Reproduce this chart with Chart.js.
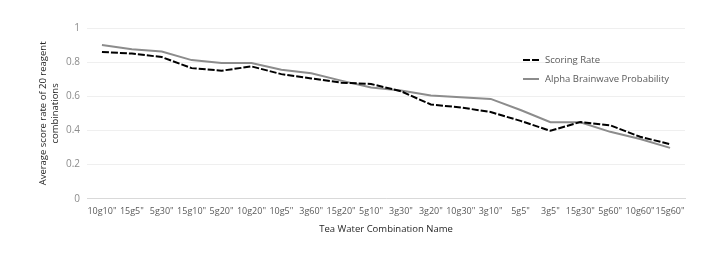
<!DOCTYPE html>
<html>
<head>
<meta charset="utf-8">
<script src="https://cdn.jsdelivr.net/npm/chart.js@4/dist/chart.umd.min.js"></script>
<style>
  html, body { margin: 0; padding: 0; background: #fff; }
  #wrap { width: 710px; height: 270px; }
</style>
</head>
<body>
<div id="wrap"><canvas id="teaChart" width="710" height="270"></canvas></div>
<script>
const combos = ['10g10"', '15g5"', '5g30"', '15g10"', '5g20"', '10g20"', '10g5"', '3g60"', '15g20"', '5g10"',
  '3g30"', '3g20"', '10g30"', '3g10"', '5g5"', '3g5"', '15g30"', '5g60"', '10g60"', '15g60"'];
const scoringRate = [0.86, 0.85, 0.83, 0.765, 0.75, 0.775, 0.73, 0.705, 0.68, 0.672,
  0.63, 0.552, 0.535, 0.508, 0.456, 0.398, 0.45, 0.43, 0.363, 0.32];
const alphaProb = [0.90, 0.876, 0.862, 0.812, 0.795, 0.795, 0.755, 0.735, 0.692, 0.652,
  0.634, 0.605, 0.595, 0.585, 0.52, 0.448, 0.448, 0.392, 0.35, 0.298];
const yTicks = [0, 0.2, 0.4, 0.6, 0.8, 1];

const fontFamily = '"Open Sans", "Liberation Sans", sans-serif';

// legend sits inside the plot, drawn by hand
const innerLegend = {
  id: 'innerLegend',
  afterDraw(chart) {
    const ctx = chart.ctx;
    const x0 = 523, y0 = 60, gap = 19;
    ctx.save();
    ctx.font = '9.5px ' + fontFamily;
    ctx.textBaseline = 'middle';
    chart.data.datasets.forEach((ds, i) => {
      const y = y0 + i * gap;
      ctx.strokeStyle = ds.borderColor;
      ctx.lineWidth = 2;
      ctx.setLineDash(ds.borderDash || []);
      ctx.beginPath();
      ctx.moveTo(x0, y);
      ctx.lineTo(x0 + 16, y);
      ctx.stroke();
      ctx.setLineDash([]);
      ctx.fillStyle = '#595959';
      ctx.fillText(ds.label, x0 + 22, y);
    });
    ctx.restore();
  }
};

new Chart(document.getElementById('teaChart'), {
  type: 'line',
  data: {
    labels: combos,
    datasets: [
      {
        label: 'Scoring Rate',
        data: scoringRate,
        borderColor: '#000000',
        borderWidth: 2,
        borderDash: [7, 2],
        pointRadius: 0,
        tension: 0
      },
      {
        label: 'Alpha Brainwave Probability',
        data: alphaProb,
        borderColor: '#8c8c8c',
        borderWidth: 2,
        pointRadius: 0,
        tension: 0
      }
    ]
  },
  options: {
    responsive: false,
    animation: false,
    layout: { padding: { left: 37, right: 25, top: 28, bottom: 35 } },
    plugins: {
      legend: { display: false },
      tooltip: { enabled: false }
    },
    scales: {
      x: {
        offset: true,
        grid: { display: false, drawTicks: false },
        border: { color: '#d9d9d9', width: 1 },
        ticks: {
          color: '#595959',
          font: { size: 9, family: fontFamily },
          padding: 7,
          maxRotation: 0,
          autoSkip: false
        },
        title: {
          display: true,
          text: 'Tea Water Combination Name',
          color: '#262626',
          font: { size: 9.5, family: fontFamily },
          padding: { top: 0, bottom: 0 }
        }
      },
      y: {
        min: 0,
        max: 1,
        afterBuildTicks(scale) {
          scale.ticks = yTicks.map(v => ({ value: v }));
        },
        afterFit(scale) {
          scale.width = 50;
        },
        grid: { color: '#efefef', drawTicks: false },
        border: { display: false },
        ticks: {
          color: '#8c8c8c',
          font: { size: 10, family: fontFamily },
          padding: 7,
          callback: v => String(v)
        },
        title: {
          display: true,
          text: ['Average score rate of 20 reagent', 'combinations'],
          color: '#262626',
          font: { size: 9.5, family: fontFamily, lineHeight: 1.3 },
          padding: { top: 0, bottom: 4 }
        }
      }
    }
  },
  plugins: [innerLegend]
});
</script>
</body>
</html>
